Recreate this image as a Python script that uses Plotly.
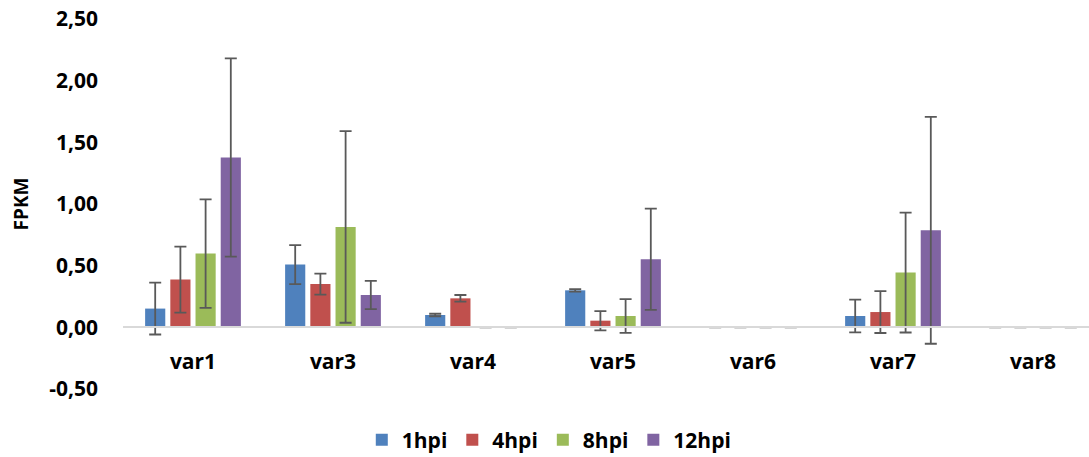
import plotly.graph_objects as go

categories = ["var1", "var3", "var4", "var5", "var6", "var7", "var8"]
series_names = ["1hpi", "4hpi", "8hpi", "12hpi"]
colors = ["#4F81BD", "#C0504D", "#9BBB59", "#8064A2"]

v_1hpi = [0.152, 0.509, 0.100, 0.300, 0.0, 0.092, 0.0]
e_1hpi = [0.210, 0.158, 0.010, 0.010, 0.0, 0.133, 0.0]
v_4hpi = [0.387, 0.351, 0.235, 0.054, 0.0, 0.124, 0.0]
e_4hpi = [0.267, 0.085, 0.027, 0.078, 0.0, 0.170, 0.0]
v_8hpi = [0.598, 0.814, 0.0, 0.092, 0.0, 0.444, 0.0]
e_8hpi = [0.440, 0.777, 0.0, 0.137, 0.0, 0.486, 0.0]
v_12hpi = [1.377, 0.262, 0.0, 0.552, 0.0, 0.787, 0.0]
e_12hpi = [0.803, 0.115, 0.0, 0.410, 0.0, 0.920, 0.0]

values = [v_1hpi, v_4hpi, v_8hpi, v_12hpi]
errors = [e_1hpi, e_4hpi, e_8hpi, e_12hpi]

y_ticks = [-0.5, 0.0, 0.5, 1.0, 1.5, 2.0, 2.5]
y_ticktext = ["-0,50", "0,00", "0,50", "1,00", "1,50", "2,00", "2,50"]

FONT = "Open Sans"

fig = go.Figure()
for name, col, v, e in zip(series_names, colors, values, errors):
    fig.add_trace(go.Bar(
        x=categories, y=v, name=name,
        marker=dict(color=col, line=dict(width=0)),
        error_y=dict(type="data", array=e, visible=True,
                     color="#595959", thickness=1.8, width=6),
    ))

fig.update_layout(
    width=1089, height=457,
    margin=dict(l=123, r=0, t=19, b=68, autoexpand=False),
    paper_bgcolor="white", plot_bgcolor="white",
    barmode="group", bargap=0.28, bargroupgap=0.2,
    font=dict(family=FONT, size=21, color="black", weight="bold"),
    showlegend=True,
    legend=dict(orientation="h", x=0.5044, xref="container", xanchor="center",
                y=0.0372, yref="container", yanchor="middle",
                font=dict(family=FONT, size=21, color="black", weight="bold"),
                itemwidth=30, traceorder="normal"),
    xaxis=dict(
        range=[-0.5, 6.4], anchor="free", position=0.5 / 3.0,
        showline=True, linecolor="#D9D9D9", linewidth=1.5,
        showgrid=False, zeroline=False, ticks="", ticklabelstandoff=16,
        tickfont=dict(family=FONT, size=21, color="black", weight="bold"),
    ),
    yaxis=dict(
        range=[-0.5, 2.5], tickvals=y_ticks, ticktext=y_ticktext,
        showgrid=False, zeroline=False, showline=False, ticks="",
        ticklabelstandoff=24, ticklabeloverflow="allow",
        tickfont=dict(family=FONT, size=21, color="black", weight="bold"),
        title=dict(text="FPKM", standoff=15,
                   font=dict(family=FONT, size=19, color="black", weight="bold")),
    ),
)

fig.write_html(
    "out.html",
    config={"displayModeBar": False},
    post_script="document.body.style.margin='0px';document.body.style.overflow='hidden';",
)
